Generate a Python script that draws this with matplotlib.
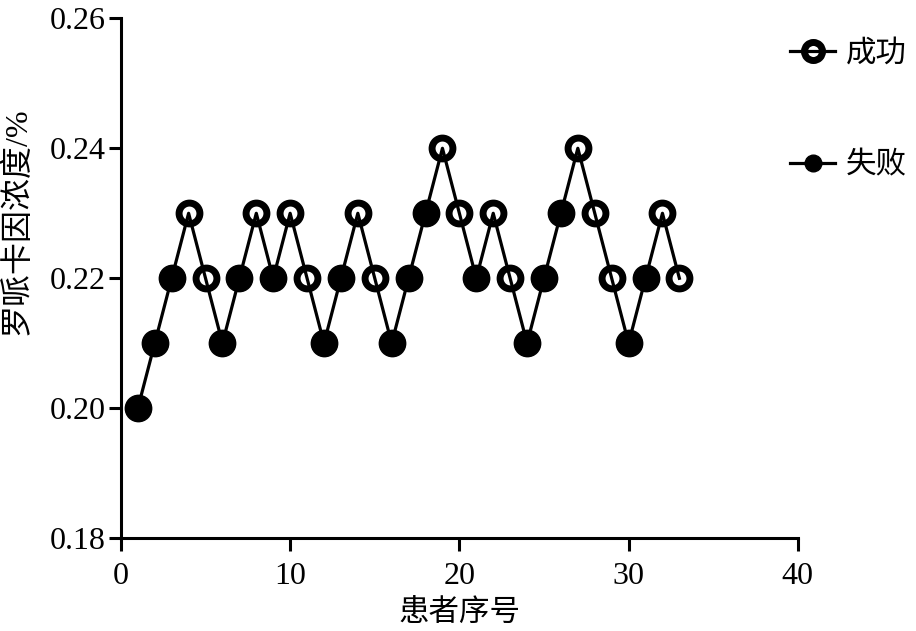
import matplotlib.pyplot as plt
from matplotlib.lines import Line2D

plt.rcParams['font.family'] = ['Liberation Serif', 'Noto Sans CJK SC']

# patient index, concentration (%), outcome (1 = success / 成功, 0 = failure / 失败)
patient = list(range(1, 34))
conc = [0.20, 0.21, 0.22, 0.23, 0.22, 0.21, 0.22, 0.23, 0.22, 0.23,
        0.22, 0.21, 0.22, 0.23, 0.22, 0.21, 0.22, 0.23, 0.24, 0.23,
        0.22, 0.23, 0.22, 0.21, 0.22, 0.23, 0.24, 0.23, 0.22, 0.21,
        0.22, 0.23, 0.22]
success = [0, 0, 0, 1, 1, 0, 0, 1, 0, 1,
           1, 0, 0, 1, 1, 0, 0, 0, 1, 1,
           0, 1, 1, 0, 0, 0, 1, 1, 1, 0,
           0, 1, 1]

xs_ok = [p for p, s in zip(patient, success) if s]
ys_ok = [c for c, s in zip(conc, success) if s]
xs_fail = [p for p, s in zip(patient, success) if not s]
ys_fail = [c for c, s in zip(conc, success) if not s]

fig = plt.figure(figsize=(9.16, 6.31), dpi=100)
ax = fig.add_axes([0.132, 0.147, 0.739, 0.824])

ax.plot(patient, conc, color='black', lw=2.3, zorder=1)
ax.plot(xs_fail, ys_fail, ls='none', marker='o', ms=19, mfc='black', mec='black', mew=1, zorder=2)
ax.plot(xs_ok, ys_ok, ls='none', marker='o', ms=15, mfc='none', mec='black', mew=5, zorder=3)

ax.set_xlim(0, 40)
ax.set_ylim(0.18, 0.26)
ax.set_xticks([0, 10, 20, 30, 40])
ax.set_yticks([0.18, 0.20, 0.22, 0.24, 0.26])
ax.set_yticklabels(['0.18', '0.20', '0.22', '0.24', '0.26'])
ax.spines['top'].set_visible(False)
ax.spines['right'].set_visible(False)
for s in ['left', 'bottom']:
    ax.spines[s].set_linewidth(2.2)
ax.tick_params(direction='out', length=9, width=2.2, labelsize=23, pad=2)
ax.tick_params(axis='x', pad=8)

ax.set_xlabel('患者序号', fontsize=22, labelpad=6)
ax.set_ylabel('罗哌卡因浓度/%', fontsize=23)
ax.yaxis.set_label_coords(-0.13, 0.61)

handles = [
    Line2D([], [], color='black', lw=2.3, marker='o', ms=13, mfc='none', mec='black', mew=5),
    Line2D([], [], color='black', lw=2.3, marker='o', ms=12, mfc='black', mec='black'),
]
fig.legend(handles, ['成功', '失败'], loc='upper left', bbox_to_anchor=(0.862, 0.937),
           frameon=False, fontsize=22, labelspacing=2.7, handlelength=1.5, handletextpad=0.35,
           borderpad=0, borderaxespad=0)

fig.savefig('out.png', dpi=100)
